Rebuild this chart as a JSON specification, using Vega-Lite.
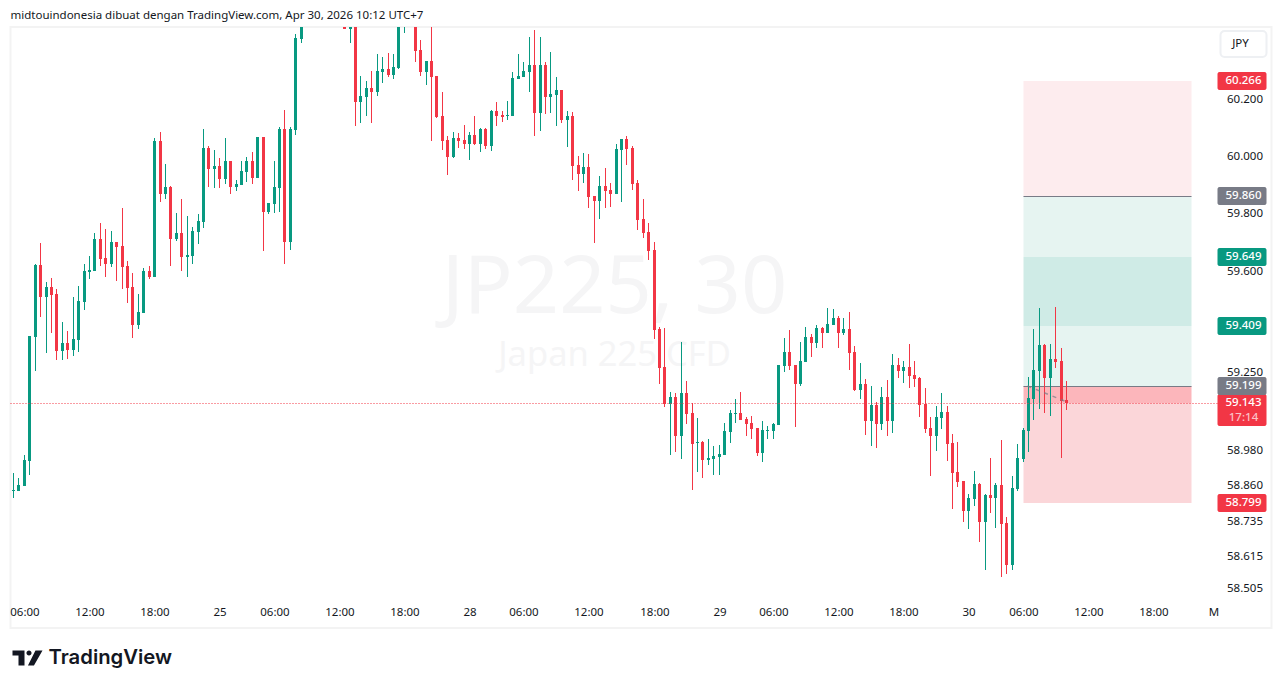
{
  "$schema": "https://vega.github.io/schema/vega-lite/v6.json",
  "width": 1261,
  "height": 601,
  "autosize": "none",
  "padding": {"left": 10.5, "top": 27, "right": 9.5, "bottom": 60},
  "background": "white",
  "title": {"text": "midtouindonesia dibuat dengan TradingView.com, Apr 30, 2026 10:12 UTC+7", "anchor": "start", "frame": "group", "font": "Noto Sans", "fontSize": 11.5, "fontWeight": "normal", "color": "#131722", "offset": 6},
  "view": {"stroke": "#f3f3f3", "strokeWidth": 2},
  "config": {"font": "Noto Sans"},
  "datasets": {
    "candles": [
      {"bar":0,"open":58.838,"high":58.899,"low":58.816,"close":58.842},
      {"bar":1,"open":58.840,"high":58.882,"low":58.840,"close":58.859},
      {"bar":2,"open":58.857,"high":58.962,"low":58.857,"close":58.945},
      {"bar":3,"open":58.943,"high":59.374,"low":58.893,"close":59.374},
      {"bar":4,"open":59.371,"high":59.624,"low":59.254,"close":59.620},
      {"bar":5,"open":59.620,"high":59.696,"low":59.441,"close":59.510},
      {"bar":6,"open":59.510,"high":59.561,"low":59.316,"close":59.544},
      {"bar":7,"open":59.544,"high":59.575,"low":59.385,"close":59.516},
      {"bar":8,"open":59.519,"high":59.537,"low":59.290,"close":59.323},
      {"bar":9,"open":59.323,"high":59.422,"low":59.292,"close":59.349},
      {"bar":10,"open":59.349,"high":59.391,"low":59.295,"close":59.325},
      {"bar":11,"open":59.325,"high":59.509,"low":59.305,"close":59.363},
      {"bar":12,"open":59.360,"high":59.547,"low":59.319,"close":59.495},
      {"bar":13,"open":59.492,"high":59.624,"low":59.465,"close":59.599},
      {"bar":14,"open":59.596,"high":59.652,"low":59.573,"close":59.603},
      {"bar":15,"open":59.599,"high":59.732,"low":59.599,"close":59.711},
      {"bar":16,"open":59.711,"high":59.767,"low":59.617,"close":59.641},
      {"bar":17,"open":59.645,"high":59.746,"low":59.579,"close":59.624},
      {"bar":18,"open":59.624,"high":59.739,"low":59.613,"close":59.701},
      {"bar":19,"open":59.701,"high":59.701,"low":59.565,"close":59.683},
      {"bar":20,"open":59.686,"high":59.819,"low":59.537,"close":59.613},
      {"bar":21,"open":59.617,"high":59.634,"low":59.488,"close":59.540},
      {"bar":22,"open":59.544,"high":59.593,"low":59.367,"close":59.412},
      {"bar":23,"open":59.412,"high":59.519,"low":59.398,"close":59.457},
      {"bar":24,"open":59.453,"high":59.610,"low":59.453,"close":59.599},
      {"bar":25,"open":59.599,"high":59.617,"low":59.572,"close":59.579},
      {"bar":26,"open":59.579,"high":60.064,"low":59.579,"close":60.054},
      {"bar":27,"open":60.054,"high":60.085,"low":59.840,"close":59.868},
      {"bar":28,"open":59.868,"high":59.973,"low":59.850,"close":59.892},
      {"bar":29,"open":59.892,"high":59.896,"low":59.617,"close":59.711},
      {"bar":30,"open":59.711,"high":59.802,"low":59.704,"close":59.732},
      {"bar":31,"open":59.732,"high":59.852,"low":59.599,"close":59.648},
      {"bar":32,"open":59.648,"high":59.791,"low":59.579,"close":59.655},
      {"bar":33,"open":59.652,"high":59.753,"low":59.624,"close":59.739},
      {"bar":34,"open":59.735,"high":59.798,"low":59.693,"close":59.774},
      {"bar":35,"open":59.770,"high":60.096,"low":59.749,"close":60.029},
      {"bar":36,"open":60.029,"high":60.036,"low":59.892,"close":59.956},
      {"bar":37,"open":59.956,"high":60.022,"low":59.889,"close":59.966},
      {"bar":38,"open":59.966,"high":59.994,"low":59.889,"close":59.920},
      {"bar":39,"open":59.920,"high":60.064,"low":59.903,"close":59.984},
      {"bar":40,"open":59.984,"high":59.984,"low":59.868,"close":59.892},
      {"bar":41,"open":59.892,"high":59.917,"low":59.878,"close":59.903},
      {"bar":42,"open":59.899,"high":59.984,"low":59.899,"close":59.948},
      {"bar":43,"open":59.945,"high":59.998,"low":59.910,"close":59.984},
      {"bar":44,"open":59.984,"high":60.015,"low":59.903,"close":59.924},
      {"bar":45,"open":59.924,"high":60.068,"low":59.924,"close":60.068},
      {"bar":46,"open":60.068,"high":60.068,"low":59.669,"close":59.805},
      {"bar":47,"open":59.805,"high":59.837,"low":59.798,"close":59.837},
      {"bar":48,"open":59.833,"high":59.984,"low":59.802,"close":59.892},
      {"bar":49,"open":59.889,"high":60.103,"low":59.805,"close":60.096},
      {"bar":50,"open":60.096,"high":60.162,"low":59.624,"close":59.701},
      {"bar":51,"open":59.701,"high":60.103,"low":59.673,"close":60.096},
      {"bar":52,"open":60.092,"high":60.430,"low":60.075,"close":60.416},
      {"bar":53,"open":60.413,"high":60.480,"low":60.398,"close":60.470},
      {"bar":61,"open":60.470,"high":60.480,"low":60.448,"close":60.448},
      {"bar":62,"open":60.448,"high":60.480,"low":60.400,"close":60.470},
      {"bar":63,"open":60.470,"high":60.480,"low":60.106,"close":60.190},
      {"bar":64,"open":60.190,"high":60.282,"low":60.117,"close":60.212},
      {"bar":65,"open":60.208,"high":60.264,"low":60.141,"close":60.240},
      {"bar":66,"open":60.240,"high":60.300,"low":60.117,"close":60.226},
      {"bar":67,"open":60.226,"high":60.360,"low":60.212,"close":60.300},
      {"bar":68,"open":60.296,"high":60.349,"low":60.257,"close":60.307},
      {"bar":69,"open":60.307,"high":60.363,"low":60.279,"close":60.286},
      {"bar":70,"open":60.286,"high":60.360,"low":60.271,"close":60.314},
      {"bar":71,"open":60.310,"high":60.480,"low":60.307,"close":60.470},
      {"bar":72,"open":60.470,"high":60.490,"low":60.435,"close":60.480},
      {"bar":74,"open":60.470,"high":60.480,"low":60.331,"close":60.371},
      {"bar":75,"open":60.374,"high":60.409,"low":60.282,"close":60.296},
      {"bar":76,"open":60.296,"high":60.335,"low":60.250,"close":60.335},
      {"bar":77,"open":60.335,"high":60.470,"low":60.054,"close":60.279},
      {"bar":78,"open":60.282,"high":60.282,"low":60.134,"close":60.138},
      {"bar":79,"open":60.141,"high":60.226,"low":60.022,"close":60.054},
      {"bar":80,"open":60.057,"high":60.071,"low":59.934,"close":59.997},
      {"bar":81,"open":59.997,"high":60.085,"low":59.994,"close":60.064},
      {"bar":82,"open":60.064,"high":60.082,"low":60.029,"close":60.054},
      {"bar":83,"open":60.057,"high":60.110,"low":60.025,"close":60.043},
      {"bar":84,"open":60.043,"high":60.085,"low":59.987,"close":60.075},
      {"bar":85,"open":60.075,"high":60.141,"low":60.040,"close":60.043},
      {"bar":86,"open":60.043,"high":60.099,"low":60.015,"close":60.096},
      {"bar":87,"open":60.096,"high":60.099,"low":60.025,"close":60.036},
      {"bar":88,"open":60.036,"high":60.162,"low":60.018,"close":60.159},
      {"bar":89,"open":60.159,"high":60.190,"low":60.106,"close":60.141},
      {"bar":90,"open":60.145,"high":60.159,"low":60.120,"close":60.138},
      {"bar":91,"open":60.141,"high":60.194,"low":60.127,"close":60.145},
      {"bar":92,"open":60.141,"high":60.296,"low":60.141,"close":60.275},
      {"bar":93,"open":60.271,"high":60.360,"low":60.271,"close":60.282},
      {"bar":94,"open":60.279,"high":60.331,"low":60.279,"close":60.300},
      {"bar":95,"open":60.296,"high":60.419,"low":60.226,"close":60.321},
      {"bar":96,"open":60.321,"high":60.444,"low":60.071,"close":60.152},
      {"bar":97,"open":60.152,"high":60.419,"low":60.089,"close":60.321},
      {"bar":98,"open":60.321,"high":60.331,"low":60.148,"close":60.208},
      {"bar":99,"open":60.208,"high":60.367,"low":60.152,"close":60.219},
      {"bar":100,"open":60.215,"high":60.279,"low":60.106,"close":60.233},
      {"bar":101,"open":60.233,"high":60.233,"low":60.117,"close":60.127},
      {"bar":102,"open":60.127,"high":60.159,"low":60.032,"close":60.141},
      {"bar":103,"open":60.141,"high":60.155,"low":59.917,"close":59.966},
      {"bar":104,"open":59.969,"high":60.001,"low":59.878,"close":59.938},
      {"bar":105,"open":59.938,"high":60.011,"low":59.906,"close":59.962},
      {"bar":106,"open":59.962,"high":60.008,"low":59.819,"close":59.857},
      {"bar":107,"open":59.861,"high":59.861,"low":59.697,"close":59.843},
      {"bar":108,"open":59.843,"high":59.931,"low":59.781,"close":59.896},
      {"bar":109,"open":59.896,"high":59.959,"low":59.819,"close":59.878},
      {"bar":110,"open":59.882,"high":59.906,"low":59.823,"close":59.868},
      {"bar":111,"open":59.868,"high":60.043,"low":59.868,"close":60.025},
      {"bar":112,"open":60.022,"high":60.061,"low":59.840,"close":60.061},
      {"bar":113,"open":60.061,"high":60.071,"low":59.969,"close":60.025},
      {"bar":114,"open":60.029,"high":60.036,"low":59.882,"close":59.903},
      {"bar":115,"open":59.906,"high":59.917,"low":59.742,"close":59.777},
      {"bar":116,"open":59.781,"high":59.850,"low":59.714,"close":59.732},
      {"bar":117,"open":59.735,"high":59.767,"low":59.638,"close":59.669},
      {"bar":118,"open":59.672,"high":59.700,"low":59.363,"close":59.394},
      {"bar":119,"open":59.398,"high":59.405,"low":59.207,"close":59.263},
      {"bar":120,"open":59.266,"high":59.401,"low":59.128,"close":59.138},
      {"bar":121,"open":59.138,"high":59.180,"low":58.962,"close":59.162},
      {"bar":122,"open":59.162,"high":59.176,"low":58.973,"close":59.028},
      {"bar":123,"open":59.028,"high":59.353,"low":58.949,"close":59.176},
      {"bar":124,"open":59.176,"high":59.218,"low":59.069,"close":59.104},
      {"bar":125,"open":59.107,"high":59.142,"low":58.842,"close":59.000},
      {"bar":126,"open":59.004,"high":59.090,"low":58.904,"close":59.007},
      {"bar":127,"open":59.007,"high":59.011,"low":58.883,"close":58.945},
      {"bar":128,"open":58.945,"high":59.018,"low":58.928,"close":58.952},
      {"bar":129,"open":58.949,"high":58.994,"low":58.894,"close":58.959},
      {"bar":130,"open":58.956,"high":58.997,"low":58.894,"close":58.966},
      {"bar":131,"open":58.962,"high":59.073,"low":58.962,"close":59.045},
      {"bar":132,"open":59.042,"high":59.118,"low":59.004,"close":59.107},
      {"bar":133,"open":59.104,"high":59.155,"low":59.073,"close":59.107},
      {"bar":134,"open":59.107,"high":59.180,"low":59.083,"close":59.083},
      {"bar":135,"open":59.086,"high":59.093,"low":59.028,"close":59.069},
      {"bar":136,"open":59.073,"high":59.097,"low":59.018,"close":59.052},
      {"bar":137,"open":59.055,"high":59.055,"low":58.959,"close":58.969},
      {"bar":138,"open":58.969,"high":59.080,"low":58.938,"close":59.049},
      {"bar":139,"open":59.045,"high":59.062,"low":59.018,"close":59.049},
      {"bar":140,"open":59.045,"high":59.073,"low":59.018,"close":59.069},
      {"bar":141,"open":59.066,"high":59.273,"low":59.066,"close":59.273},
      {"bar":142,"open":59.270,"high":59.367,"low":59.249,"close":59.318},
      {"bar":143,"open":59.318,"high":59.394,"low":59.256,"close":59.270},
      {"bar":144,"open":59.273,"high":59.273,"low":59.059,"close":59.207},
      {"bar":145,"open":59.207,"high":59.353,"low":59.200,"close":59.287},
      {"bar":146,"open":59.284,"high":59.405,"low":59.284,"close":59.370},
      {"bar":147,"open":59.370,"high":59.380,"low":59.301,"close":59.349},
      {"bar":148,"open":59.349,"high":59.411,"low":59.332,"close":59.401},
      {"bar":149,"open":59.401,"high":59.405,"low":59.332,"close":59.384},
      {"bar":150,"open":59.384,"high":59.471,"low":59.384,"close":59.415},
      {"bar":151,"open":59.412,"high":59.467,"low":59.412,"close":59.436},
      {"bar":152,"open":59.436,"high":59.443,"low":59.332,"close":59.384},
      {"bar":153,"open":59.384,"high":59.436,"low":59.377,"close":59.398},
      {"bar":154,"open":59.398,"high":59.457,"low":59.256,"close":59.315},
      {"bar":155,"open":59.318,"high":59.339,"low":59.183,"close":59.187},
      {"bar":156,"open":59.187,"high":59.280,"low":59.155,"close":59.207},
      {"bar":157,"open":59.207,"high":59.225,"low":59.031,"close":59.080},
      {"bar":158,"open":59.080,"high":59.201,"low":58.994,"close":59.135},
      {"bar":159,"open":59.135,"high":59.145,"low":58.987,"close":59.069},
      {"bar":160,"open":59.069,"high":59.197,"low":59.049,"close":59.162},
      {"bar":161,"open":59.162,"high":59.221,"low":59.028,"close":59.080},
      {"bar":162,"open":59.080,"high":59.311,"low":59.038,"close":59.273},
      {"bar":163,"open":59.273,"high":59.297,"low":59.228,"close":59.252},
      {"bar":164,"open":59.252,"high":59.287,"low":59.211,"close":59.266},
      {"bar":165,"open":59.266,"high":59.346,"low":59.194,"close":59.235},
      {"bar":166,"open":59.239,"high":59.287,"low":59.197,"close":59.225},
      {"bar":167,"open":59.228,"high":59.232,"low":59.093,"close":59.135},
      {"bar":168,"open":59.138,"high":59.194,"low":59.038,"close":59.052},
      {"bar":169,"open":59.055,"high":59.093,"low":58.890,"close":59.028},
      {"bar":170,"open":59.028,"high":59.131,"low":58.976,"close":59.093},
      {"bar":171,"open":59.090,"high":59.176,"low":59.052,"close":59.111},
      {"bar":172,"open":59.111,"high":59.131,"low":58.942,"close":59.000},
      {"bar":173,"open":59.004,"high":59.035,"low":58.777,"close":58.900},
      {"bar":174,"open":58.904,"high":59.007,"low":58.852,"close":58.870},
      {"bar":175,"open":58.873,"high":58.873,"low":58.732,"close":58.770},
      {"bar":176,"open":58.770,"high":58.828,"low":58.708,"close":58.814},
      {"bar":177,"open":58.811,"high":58.907,"low":58.787,"close":58.863},
      {"bar":178,"open":58.863,"high":58.866,"low":58.664,"close":58.732},
      {"bar":179,"open":58.732,"high":58.828,"low":58.568,"close":58.825},
      {"bar":180,"open":58.825,"high":58.952,"low":58.763,"close":58.814},
      {"bar":181,"open":58.814,"high":58.866,"low":58.712,"close":58.859},
      {"bar":182,"open":58.859,"high":59.014,"low":58.544,"close":58.725},
      {"bar":183,"open":58.729,"high":58.749,"low":58.554,"close":58.585},
      {"bar":184,"open":58.585,"high":58.890,"low":58.568,"close":58.849},
      {"bar":185,"open":58.845,"high":59.000,"low":58.838,"close":58.952},
      {"bar":186,"open":58.948,"high":59.055,"low":58.938,"close":59.048},
      {"bar":187,"open":59.045,"high":59.233,"low":58.973,"close":59.159},
      {"bar":188,"open":59.155,"high":59.398,"low":59.083,"close":59.256},
      {"bar":189,"open":59.252,"high":59.471,"low":59.121,"close":59.342},
      {"bar":190,"open":59.342,"high":59.346,"low":59.107,"close":59.228},
      {"bar":191,"open":59.228,"high":59.346,"low":59.097,"close":59.294},
      {"bar":192,"open":59.294,"high":59.474,"low":59.263,"close":59.284},
      {"bar":193,"open":59.287,"high":59.332,"low":58.952,"close":59.149},
      {"bar":194,"open":59.152,"high":59.218,"low":59.118,"close":59.143}
    ],
    "zones": [
      {"bar":186,"bar2":217.1,"price":60.266,"price2":59.860,"zone":"stop"},
      {"bar":186,"bar2":217.1,"price":59.860,"price2":59.649,"zone":"reward"},
      {"bar":186,"bar2":217.1,"price":59.649,"price2":59.409,"zone":"overlap"},
      {"bar":186,"bar2":217.1,"price":59.409,"price2":59.199,"zone":"reward"},
      {"bar":186,"bar2":217.1,"price":59.199,"price2":59.143,"zone":"loss"},
      {"bar":186,"bar2":217.1,"price":59.143,"price2":58.799,"zone":"risk"}
    ],
    "levels": [
      {"bar":186,"bar2":217.1,"price":59.860},
      {"bar":186,"bar2":217.1,"price":59.199}
    ],
    "lastPrice": [
      {"bar":-0.55,"bar2":221.9,"price":59.143,"label":"59.143","countdown":"17:14"}
    ],
    "badges": [
      {"bar":221.9,"bar2":230.9,"mid":226.6,"price":60.266,"label":"60.266","kind":"red"},
      {"bar":221.9,"bar2":230.9,"mid":226.6,"price":59.860,"label":"59.860","kind":"gray"},
      {"bar":221.9,"bar2":230.9,"mid":226.6,"price":59.649,"label":"59.649","kind":"green"},
      {"bar":221.9,"bar2":230.9,"mid":226.6,"price":59.409,"label":"59.409","kind":"green"},
      {"bar":221.9,"bar2":230.9,"mid":226.6,"price":59.199,"label":"59.199","kind":"gray"},
      {"bar":221.9,"bar2":230.9,"mid":226.6,"price":58.799,"label":"58.799","kind":"red"}
    ],
    "currency": [
      {"bar":222.3,"bar2":230.9,"mid":225.96,"price":60.395,"label":"JPY"}
    ],
    "trade": [
      {"bar":186.9,"price":59.199},
      {"bar":193.6,"price":59.148}
    ]
  },
  "resolve": {"scale": {"color": "independent"}},
  "layer": [
    {
      "data": {"values": [{"bar":110.65,"price":59.537,"label":"JP225, 30"}]},
      "mark": {"type": "text", "font": "Noto Sans", "fontSize": 81, "color": "#f5f5f6", "align": "center", "baseline": "middle"},
      "encoding": {
        "x": {
          "field": "bar", "type": "quantitative",
          "scale": {"domain": [-0.553, 231.76], "nice": false, "zero": false, "round": true, "padding": 0},
          "axis": {
            "title": null, "orient": "bottom", "offset": -27, "domain": false, "ticks": false, "grid": false,
            "labelPadding": 5, "labelFontSize": 11.5, "labelFont": "Noto Sans", "labelColor": "#131722", "labelOverlap": false, "labelFlush": false,
            "values": [2,14,26,38,48,60,72,84,94,106,118,130,140,152,164,176,186,198,210,221],
            "labelExpr": "indexof([2,48,94,140,186],datum.value)>=0?'06:00':indexof([14,60,106,152,198],datum.value)>=0?'12:00':indexof([26,72,118,164,210],datum.value)>=0?'18:00':datum.value==38?'25':datum.value==84?'28':datum.value==130?'29':datum.value==176?'30':'M'"
          }
        },
        "y": {
          "field": "price", "type": "quantitative",
          "scale": {"type": "log", "domain": [58.3697, 60.4548], "nice": false, "zero": false, "round": true, "padding": 0},
          "axis": {
            "title": null, "orient": "right", "offset": -59.5, "domain": false, "ticks": false, "grid": false,
            "labelPadding": 14.5, "labelFontSize": 11.5, "labelFont": "Noto Sans", "labelColor": "#131722", "labelOverlap": false, "labelFlush": false, "format": ".3f",
            "values": [60.2,60.0,59.8,59.6,59.25,58.98,58.86,58.735,58.615,58.505]
          }
        },
        "text": {"field": "label"}
      }
    },
    {
      "data": {"values": [{"bar":110.65,"price":59.304,"label":"Japan 225 CFD"}]},
      "mark": {"type": "text", "font": "Noto Sans", "fontSize": 34.5, "color": "#f5f5f6", "align": "center", "baseline": "middle"},
      "encoding": {
        "x": {"field": "bar", "type": "quantitative"},
        "y": {"field": "price", "type": "quantitative"},
        "text": {"field": "label"}
      }
    },
    {
      "data": {"name": "zones"},
      "mark": {"type": "rect"},
      "encoding": {
        "x": {"field": "bar", "type": "quantitative"},
        "x2": {"field": "bar2"},
        "y": {"field": "price", "type": "quantitative"},
        "y2": {"field": "price2"},
        "color": {"field": "zone", "type": "nominal", "legend": null,
          "scale": {"domain": ["stop","reward","overlap","loss","risk"], "range": ["#fdecee","#e6f4f1","#cfebe6","#fcb6bb","#fbd6d9"]}}
      }
    },
    {
      "data": {"name": "levels"},
      "mark": {"type": "rule", "color": "#787b86", "strokeWidth": 1, "yOffset": 0.5},
      "encoding": {
        "x": {"field": "bar", "type": "quantitative"},
        "x2": {"field": "bar2"},
        "y": {"field": "price", "type": "quantitative"}
      }
    },
    {
      "data": {"name": "candles"},
      "mark": {"type": "rule", "strokeWidth": 1, "clip": true},
      "encoding": {
        "x": {"field": "bar", "type": "quantitative"},
        "y": {"field": "high", "type": "quantitative"},
        "y2": {"field": "low"},
        "color": {"condition": {"test": "datum.close>=datum.open", "value": "#089981"}, "value": "#f23645"}
      }
    },
    {
      "data": {"name": "candles"},
      "mark": {"type": "bar", "size": 3, "clip": true},
      "encoding": {
        "x": {"field": "bar", "type": "quantitative"},
        "y": {"field": "open", "type": "quantitative"},
        "y2": {"field": "close"},
        "color": {"condition": {"test": "datum.close>=datum.open", "value": "#089981"}, "value": "#f23645"}
      }
    },
    {
      "data": {"name": "trade"},
      "mark": {"type": "line", "color": "#787b86", "strokeWidth": 1.5, "strokeDash": [4, 5], "opacity": 0.7},
      "encoding": {
        "x": {"field": "bar", "type": "quantitative"},
        "y": {"field": "price", "type": "quantitative"}
      }
    },
    {
      "data": {"name": "lastPrice"},
      "mark": {"type": "rule", "color": "#f23645", "strokeWidth": 1, "strokeDash": [1, 2], "yOffset": 0.5},
      "encoding": {
        "x": {"field": "bar", "type": "quantitative"},
        "x2": {"field": "bar2"},
        "y": {"field": "price", "type": "quantitative"}
      }
    },
    {
      "data": {"values": [{"bar":221.9,"bar2":230.9,"price":59.143}]},
      "mark": {"type": "bar", "size": 32, "color": "#f23645", "cornerRadius": 2, "yOffset": 7},
      "encoding": {
        "x": {"field": "bar", "type": "quantitative"},
        "x2": {"field": "bar2"},
        "y": {"field": "price", "type": "quantitative"}
      }
    },
    {
      "data": {"name": "badges"},
      "mark": {"type": "bar", "size": 18, "cornerRadius": 2},
      "encoding": {
        "x": {"field": "bar", "type": "quantitative"},
        "x2": {"field": "bar2"},
        "y": {"field": "price", "type": "quantitative"},
        "color": {"field": "kind", "type": "nominal", "legend": null,
          "scale": {"domain": ["red","gray","green"], "range": ["#f23645","#787b86","#089981"]}}
      }
    },
    {
      "data": {"name": "badges"},
      "mark": {"type": "text", "color": "white", "fontSize": 11.5, "font": "Noto Sans", "fontWeight": 500, "align": "center", "baseline": "middle"},
      "encoding": {
        "x": {"field": "mid", "type": "quantitative"},
        "y": {"field": "price", "type": "quantitative"},
        "text": {"field": "label"}
      }
    },
    {
      "data": {"values": [{"mid":226.6,"price":59.143,"label":"59.143"}]},
      "mark": {"type": "text", "color": "white", "fontSize": 11.5, "font": "Noto Sans", "fontWeight": 500, "align": "center", "baseline": "middle"},
      "encoding": {
        "x": {"field": "mid", "type": "quantitative"},
        "y": {"field": "price", "type": "quantitative"},
        "text": {"field": "label"}
      }
    },
    {
      "data": {"values": [{"mid":226.6,"price":59.143,"label":"17:14"}]},
      "mark": {"type": "text", "color": "#fbc2c7", "fontSize": 11.5, "font": "Noto Sans", "fontWeight": 500, "align": "center", "baseline": "middle", "dy": 15},
      "encoding": {
        "x": {"field": "mid", "type": "quantitative"},
        "y": {"field": "price", "type": "quantitative"},
        "text": {"field": "label"}
      }
    },
    {
      "data": {"name": "currency"},
      "mark": {"type": "bar", "size": 26, "fill": "white", "stroke": "#eef0f3", "strokeWidth": 2, "cornerRadius": 4},
      "encoding": {
        "x": {"field": "bar", "type": "quantitative"},
        "x2": {"field": "bar2"},
        "y": {"field": "price", "type": "quantitative"}
      }
    },
    {
      "data": {"name": "currency"},
      "mark": {"type": "text", "color": "#131722", "fontSize": 11.5, "font": "Noto Sans", "align": "center", "baseline": "middle"},
      "encoding": {
        "x": {"field": "mid", "type": "quantitative"},
        "y": {"field": "price", "type": "quantitative"},
        "text": {"field": "label"}
      }
    },
    {
      "data": {"values": [{"bar":2.52,"price":58.269}]},
      "mark": {"type": "point", "filled": true, "size": 900, "color": "#131722", "opacity": 1,
        "shape": "M-1 -.5H-.2V.5H-.6V-.17H-1ZM-.07 -.33a.17 .17 0 1 0 .34 0a.17 .17 0 1 0 -.34 0ZM.53 -.5H1L.43 .5H.03Z"},
      "encoding": {
        "x": {"field": "bar", "type": "quantitative"},
        "y": {"field": "price", "type": "quantitative"}
      }
    },
    {
      "data": {"values": [{"bar":6.39,"price":58.267,"label":"TradingView"}]},
      "mark": {"type": "text", "color": "#131722", "font": "Inter", "fontSize": 20.3, "fontWeight": 600, "align": "left", "baseline": "middle"},
      "encoding": {
        "x": {"field": "bar", "type": "quantitative"},
        "y": {"field": "price", "type": "quantitative"},
        "text": {"field": "label"}
      }
    }
  ]
}
